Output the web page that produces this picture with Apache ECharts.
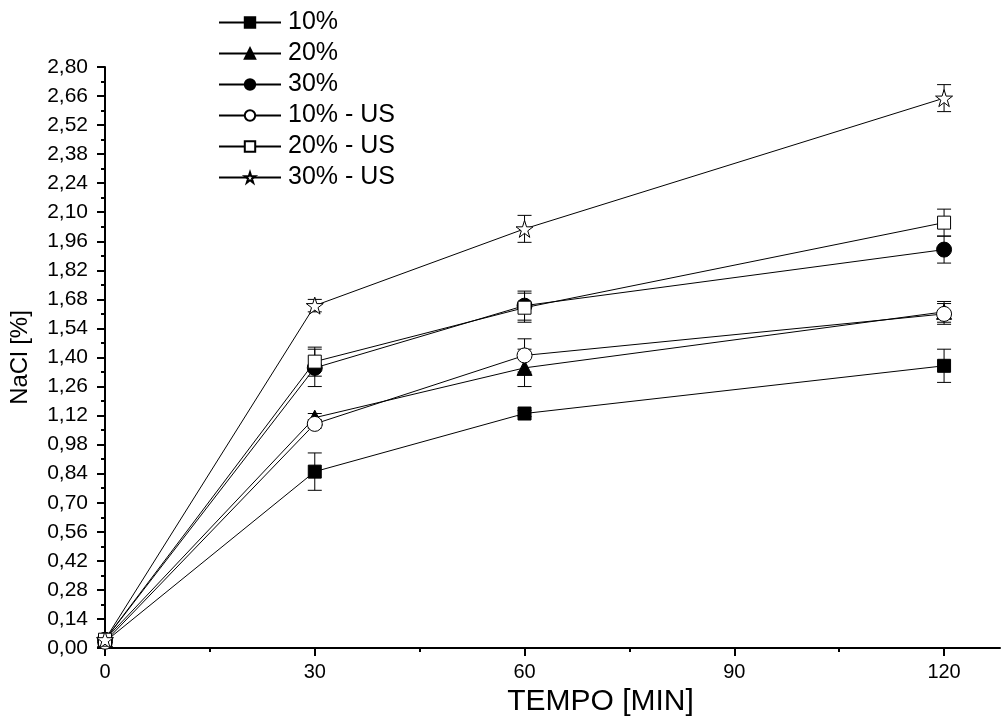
<!DOCTYPE html>
<html>
<head>
<meta charset="utf-8">
<script src="https://cdn.jsdelivr.net/npm/echarts@6/dist/echarts.min.js"></script>
<style>
  html, body { margin: 0; padding: 0; background: #fff; }
  #chart { width: 1001px; height: 717px; }
</style>
</head>
<body>
<div id="chart"></div>
<script>
// time points (min)
const times = [0, 30, 60, 120]

const seriesNames = ['10%', '20%', '30%', '10% - US', '20% - US', '30% - US']

// NaCl [%]
const nacl10 = [0.03, 0.85, 1.13, 1.36]
const nacl20 = [0.04, 1.11, 1.35, 1.62]
const nacl30 = [0.04, 1.35, 1.65, 1.92]
const nacl10us = [0.03, 1.08, 1.41, 1.61]
const nacl20us = [0.04, 1.38, 1.64, 2.05]
const nacl30us = [0.04, 1.65, 2.02, 2.65]

// error bar half-heights
const err10 = [0.01, 0.09, 0.015, 0.08]
const err20 = [0.01, 0.02, 0.09, 0.05]
const err30 = [0.01, 0.09, 0.07, 0.065]
const err10us = [0.01, 0.02, 0.08, 0.05]
const err20us = [0.01, 0.07, 0.07, 0.065]
const err30us = [0.01, 0.03, 0.065, 0.065]

const xTicks = [0, 30, 60, 90, 120]
const xMinorTicks = [15, 45, 75, 105]

const starPath = 'path://M50 0 L61.2 34.5 L97.6 34.5 L68.2 55.9 L79.4 90.5 L50 69.1 L20.6 90.5 L31.8 55.9 L2.4 34.5 L38.8 34.5 Z'

const values = [nacl10, nacl20, nacl30, nacl10us, nacl20us, nacl30us]
const errors = [err10, err20, err30, err10us, err20us, err30us]
const symbols = ['rect', 'triangle', 'circle', 'circle', 'rect', starPath]
const filled = [true, true, true, false, false, false]
const sizes = [13, 15, 15, 15, 13, 17]

const font = 'Liberation Sans, Arial, sans-serif'

const chart = echarts.init(document.getElementById('chart'))

const lineSeries = seriesNames.map((name, i) => ({
  name: name,
  type: 'line',
  data: times.map((t, j) => [t, values[i][j]]),
  symbol: symbols[i],
  symbolSize: sizes[i],
  showAllSymbol: true,
  z: 3,
  lineStyle: { color: '#000', width: 1 },
  itemStyle: {
    color: filled[i] ? '#000' : '#fff',
    borderColor: '#000',
    borderWidth: 1
  },
  emphasis: { disabled: true },
  animation: false
}))

const errorSeries = seriesNames.map((name, i) => ({
  name: name + ' err',
  type: 'custom',
  z: 2,
  data: times.map((t, j) => [t, values[i][j] - errors[i][j], values[i][j] + errors[i][j]]),
  renderItem: function (params, api) {
    const lo = api.coord([api.value(0), api.value(1)])
    const hi = api.coord([api.value(0), api.value(2)])
    const w = 7
    const style = { stroke: '#000', lineWidth: 1 }
    return {
      type: 'group',
      children: [
        { type: 'line', shape: { x1: lo[0], y1: lo[1], x2: hi[0], y2: hi[1] }, style: style },
        { type: 'line', shape: { x1: lo[0] - w, y1: lo[1], x2: lo[0] + w, y2: lo[1] }, style: style },
        { type: 'line', shape: { x1: hi[0] - w, y1: hi[1], x2: hi[0] + w, y2: hi[1] }, style: style }
      ]
    }
  },
  animation: false
}))

const option = {
  backgroundColor: '#fff',
  animation: false,
  textStyle: { fontFamily: font, color: '#000' },
  grid: { left: 105, right: 1, top: 67, bottom: 69, outerBoundsMode: 'none' },
  legend: {
    data: seriesNames,
    orient: 'vertical',
    left: 218,
    top: 10,
    padding: 0,
    itemWidth: 62,
    itemHeight: 13,
    itemGap: 6,
    textStyle: { fontFamily: font, fontSize: 25, color: '#000', padding: [0, 0, 0, 2] }
  },
  xAxis: [
    {
      type: 'value',
      min: 0,
      max: 128,
      name: 'TEMPO [MIN]',
      nameLocation: 'middle',
      nameGap: 35,
      nameTextStyle: { fontFamily: font, fontSize: 30, color: '#000', padding: [0, 0, 0, 96] },
      axisLine: { lineStyle: { color: '#000', width: 2 } },
      axisTick: { customValues: xTicks, length: 8, lineStyle: { color: '#000', width: 2 } },
      axisLabel: { customValues: xTicks, margin: 14, fontFamily: font, fontSize: 20, color: '#000' },
      splitLine: { show: false }
    },
    {
      type: 'value',
      min: 0,
      max: 128,
      position: 'bottom',
      axisLine: { show: false },
      axisTick: { customValues: xMinorTicks, length: 4, lineStyle: { color: '#000', width: 2 } },
      axisLabel: { show: false },
      splitLine: { show: false }
    }
  ],
  yAxis: {
    type: 'value',
    min: 0,
    max: 2.8,
    interval: 0.14,
    name: 'NaCl [%]',
    nameLocation: 'middle',
    nameGap: 73,
    nameTextStyle: { fontFamily: font, fontSize: 24, color: '#000' },
    axisLine: { show: true, lineStyle: { color: '#000', width: 2 } },
    axisTick: { show: true, length: 8, lineStyle: { color: '#000', width: 2 } },
    minorTick: { show: true, splitNumber: 2, length: 4, lineStyle: { color: '#000', width: 2 } },
    axisLabel: {
      margin: 17,
      fontFamily: font,
      fontSize: 21,
      color: '#000',
      formatter: (v) => v.toFixed(2).replace('.', ',')
    },
    splitLine: { show: false }
  },
  series: errorSeries.concat(lineSeries)
}

chart.setOption(option)
</script>
</body>
</html>
